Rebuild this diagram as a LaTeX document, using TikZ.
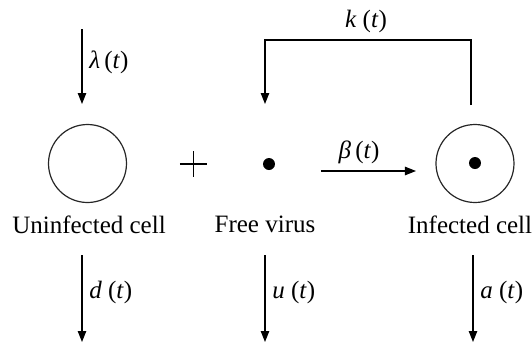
\documentclass[tikz,border=0pt]{standalone}
\usepackage{fontspec}
\setmainfont{Liberation Serif}
\usetikzlibrary{arrows.meta,positioning}

\begin{document}
\begin{tikzpicture}[x=0.5pt, y=-0.5pt,
    every node/.style={font=\fontsize{12.5}{15}\selectfont},
    cell/.style={circle, draw=black!85, line width=0.6pt, minimum size=39pt, inner sep=0pt},
    core/.style={circle, fill=black, minimum size=6pt, inner sep=0pt},
    flow/.style={line width=0.6pt, -{Triangle[width=4.2pt,length=5.5pt]}}]
  \useasboundingbox (0,0) rectangle (532,344);
  \node[cell] (uninf) at (87.5,163.5) {};
  \node[cell] (inf) at (475,163.5) {};
  \node[core] (infcore) at (475,163) {};
  \node[core] (virus) at (269,164) {};
  \draw[line width=0.65pt] (180,164) -- (207,164) (193.5,151) -- (193.5,177);
  \node[anchor=base] (uninflbl) at (89,233) {Uninfected cell};
  \node[anchor=base] (viruslbl) at (265,232) {Free virus};
  \node[anchor=base] (inflbl) at (470,233) {Infected cell};
  \coordinate (lamtop) at (82,29);
  \coordinate (lambot) at (82,104);
  \draw[flow] (lamtop) -- node[right, pos=0.45] {\textit{λ}\,(\textit{t})} (lambot);
  \coordinate (ktop) at (471,105);
  \coordinate (ktr) at (471,40);
  \coordinate (ktl) at (265,40);
  \coordinate (kend) at (265,104);
  \draw[flow] (ktop) -- (ktr) -- node[above, pos=0.51] {\textit{k} (\textit{t})} (ktl) -- (kend);
  \coordinate (bstart) at (321,171);
  \coordinate (bend) at (416,171);
  \draw[flow] (bstart) -- node[above, pos=0.4] {\textit{β}\,(\textit{t})} (bend);
  \coordinate (dtop) at (82,255);
  \coordinate (dbot) at (82,342);
  \draw[flow] (dtop) -- node[right, pos=0.43] {\textit{d} (\textit{t})} (dbot);
  \coordinate (utop) at (265,255);
  \coordinate (ubot) at (265,342);
  \draw[flow] (utop) -- node[right, pos=0.43] {\textit{u} (\textit{t})} (ubot);
  \coordinate (atop) at (473,255);
  \coordinate (abot) at (473,342);
  \draw[flow] (atop) -- node[right, pos=0.43] {\textit{a} (\textit{t})} (abot);
\end{tikzpicture}
\end{document}
